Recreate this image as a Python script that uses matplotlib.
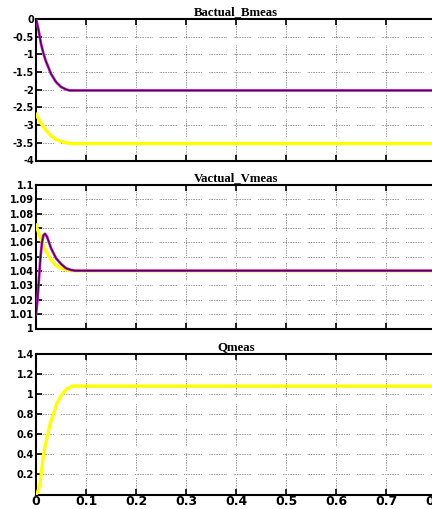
import matplotlib.pyplot as plt

# ----------------------------
# Data
# ----------------------------
t_b = [0, 0.005, 0.01, 0.015, 0.02, 0.03, 0.04, 0.05, 0.06, 0.067, 0.8]
b_actual = [0, -0.3, -0.7, -0.98, -1.2, -1.55, -1.78, -1.92, -1.99, -2.02, -2.02]
t_b2 = [0, 0.005, 0.01, 0.02, 0.03, 0.04, 0.05, 0.06, 0.07, 0.8]
b_meas = [-2.7, -2.82, -2.95, -3.15, -3.3, -3.4, -3.46, -3.5, -3.52, -3.52]

t_v = [0, 0.003, 0.006, 0.009, 0.012, 0.015, 0.018, 0.022, 0.03, 0.04, 0.05, 0.06, 0.07, 0.078, 0.8]
v_actual = [1.01, 1.02, 1.035, 1.05, 1.06, 1.065, 1.066, 1.064, 1.056, 1.049, 1.045, 1.042, 1.0408, 1.0403, 1.0403]
t_v2 = [0, 0.01, 0.02, 0.03, 0.04, 0.05, 0.06, 0.07, 0.8]
v_meas = [1.072, 1.062, 1.054, 1.048, 1.044, 1.042, 1.041, 1.0403, 1.0403]

t_q = [0, 0.003, 0.008, 0.015, 0.02, 0.028, 0.035, 0.041, 0.05, 0.061, 0.073, 0.08, 0.8]
q_meas = [0, 0.02, 0.1, 0.4, 0.52, 0.7, 0.8, 0.9, 0.98, 1.05, 1.08, 1.08, 1.08]

titles = ["Bactual_Bmeas", "Vactual_Vmeas", "Qmeas"]
x_ticks = [0, 0.1, 0.2, 0.3, 0.4, 0.5, 0.6, 0.7, 0.8]
b_ticks = [0, -0.5, -1, -1.5, -2, -2.5, -3, -3.5, -4]
v_ticks = [1, 1.01, 1.02, 1.03, 1.04, 1.05, 1.06, 1.07, 1.08, 1.09, 1.1]
q_ticks = [0.2, 0.4, 0.6, 0.8, 1, 1.2, 1.4]

YELLOW = "#ffff00"
MAGENTA = "#cc22cc"
DARK = "#3a0a40"
# patchy dotted grid like the original scope export
grid_dash = (0, [0.6, 1.4] * 10 + [0.6, 9])

fig = plt.figure(figsize=(4.32, 5.09), dpi=100)
W = 432.0
H = 509.0


def make_ax(top, bottom):
    return fig.add_axes([36 / W, 1 - bottom / H, 400 / W, (bottom - top) / H])


ax1 = make_ax(19, 160.5)
ax2 = make_ax(185, 328.5)
ax3 = make_ax(354, 494.5)

ax1.plot(t_b2, b_meas, color=YELLOW, lw=2.4, zorder=3)
ax1.plot(t_b, b_actual, color=MAGENTA, lw=2.0, zorder=4)
ax1.plot(t_b, b_actual, color=DARK, lw=0.9, zorder=5)
ax1.set_ylim(-4, 0)
ax1.set_yticks(b_ticks)
ax1.set_yticklabels([f"{v:g}" for v in b_ticks])

ax2.plot(t_v2, v_meas, color=YELLOW, lw=2.4, zorder=3)
ax2.plot(t_v, v_actual, color=MAGENTA, lw=2.0, zorder=4)
ax2.plot(t_v, v_actual, color=DARK, lw=0.9, zorder=5)
ax2.set_ylim(1, 1.1)
ax2.set_yticks(v_ticks)
ax2.set_yticklabels([f"{v:g}" for v in v_ticks])

ax3.plot(t_q, q_meas, color=YELLOW, lw=2.4, zorder=3)
ax3.set_ylim(0, 1.4)
ax3.set_yticks(q_ticks)
ax3.set_yticklabels([f"{v:g}" for v in q_ticks])

for ax, title in zip([ax1, ax2, ax3], titles):
    ax.set_xlim(0, 0.8)
    ax.set_xticks(x_ticks)
    ax.grid(True, color="#222222", lw=0.6, linestyle=grid_dash)
    ax.tick_params(direction="in", top=True, right=False, length=4, width=1.2, pad=1.5)
    for lbl in ax.get_yticklabels():
        lbl.set_fontweight("bold")
        lbl.set_fontsize(7)
        lbl.set_family("DejaVu Sans")
    for side in ["top", "bottom", "left"]:
        ax.spines[side].set_linewidth(1.5)
    ax.spines["right"].set_visible(False)
    ax.set_title(title, fontsize=9.2, fontweight="bold", family="Liberation Serif", pad=3)
    if ax is not ax3:
        ax.set_xticklabels([])

ax3.set_xticklabels([f"{v:g}" for v in x_ticks], fontweight="bold", fontsize=9)
ax3.tick_params(axis="x", pad=0.5)

fig.savefig("out.png", dpi=100)
